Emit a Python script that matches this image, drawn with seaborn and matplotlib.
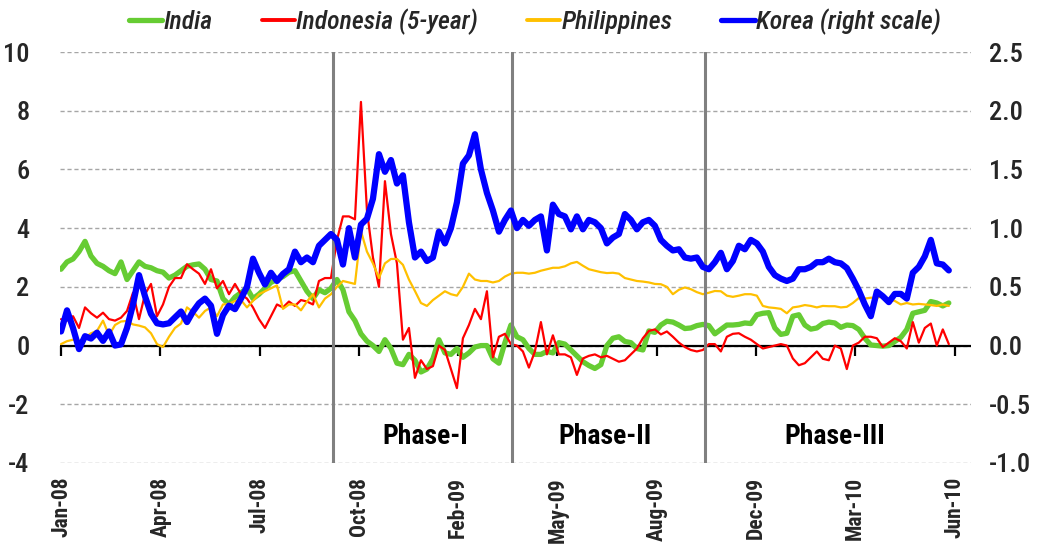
import numpy as np
import pandas as pd
import matplotlib
matplotlib.use("Agg")
import matplotlib.pyplot as plt
import seaborn as sns
from matplotlib.lines import Line2D
from matplotlib.ticker import FormatStrFormatter
from matplotlib import font_manager as fm

# ---------------- data ----------------
india = [2.6, 2.85, 2.95, 3.2, 3.55, 3.05, 2.8, 2.7, 2.55, 2.45,
         2.85, 2.25, 2.55, 2.85, 2.7, 2.65, 2.55, 2.5, 2.3, 2.4,
         2.55, 2.7, 2.75, 2.78, 2.6, 2.25, 2.2, 1.6, 1.4, 1.65,
         1.8, 1.95, 1.6, 1.75, 1.95, 2.15, 2.25, 2.35, 2.5, 2.55,
         2.2, 1.85, 1.6, 1.9, 1.8, 1.95, 2.25, 1.9, 1.15, 0.85,
         0.4, 0.15, 0.0, -0.2, 0.2, -0.1, -0.6, -0.65, -0.3, -0.5,
         -0.9, -0.8, -0.45, 0.2, -0.25, -0.3, -0.1, -0.4, -0.25, -0.05,
         0.0, 0.0, -0.45, -0.6, 0.1, 0.7, 0.3, 0.2, -0.1, -0.3,
         -0.3, -0.2, -0.25, 0.1, 0.05, -0.15, -0.35, -0.55, -0.68, -0.78,
         -0.65, 0.0, 0.25, 0.3, 0.14, 0.1, -0.1, -0.15, 0.5, 0.45,
         0.7, 0.83, 0.8, 0.7, 0.58, 0.6, 0.68, 0.72, 0.68, 0.4,
         0.55, 0.7, 0.7, 0.72, 0.77, 0.75, 1.05, 1.1, 1.12, 0.6,
         0.38, 0.42, 1.0, 1.05, 0.7, 0.56, 0.6, 0.75, 0.8, 0.77,
         0.62, 0.7, 0.68, 0.55, 0.25, 0.02, 0.0, -0.02, 0.0, 0.14,
         0.28, 0.55, 1.1, 1.15, 1.2, 1.5, 1.45, 1.35, 1.45]

indonesia = [0.9, 0.85, 1.0, 0.6, 1.3, 1.1, 0.95, 1.12, 0.9, 0.85,
             0.95, 1.18, 1.8, 0.9, 1.75, 2.1, 1.0, 1.4, 2.0, 2.3,
             2.3, 2.77, 2.6, 2.45, 2.1, 2.6, 1.95, 2.2, 1.75, 2.1,
             1.75, 1.6, 1.3, 0.9, 0.6, 1.0, 1.4, 1.3, 1.5, 1.35,
             1.55, 1.5, 1.4, 2.2, 2.3, 2.3, 3.6, 4.4, 4.4, 4.3,
             8.3, 4.6, 3.0, 2.0, 5.6, 3.8, 2.8, 0.2, 0.6, -1.1,
             -0.5, -0.8, -0.7, 0.0, -0.15, -0.8, -1.45, 0.25, 0.7, 1.25,
             0.9, 1.85, -0.4, 0.3, 0.4, 0.05, 0.0, -0.2, -0.75, -0.2,
             0.8, -0.3, 0.35, -0.3, -0.3, -0.4, -1.0, -0.44, -0.35, -0.3,
             -0.4, -0.35, -0.45, -0.55, -0.5, -0.3, -0.1, 0.25, 0.5, 0.55,
             0.38, 0.48, 0.3, 0.1, -0.05, -0.15, -0.2, -0.15, 0.05, 0.05,
             -0.2, 0.3, 0.4, 0.42, 0.3, 0.2, 0.05, -0.1, -0.05, 0.0,
             0.05, 0.0, -0.44, -0.67, -0.6, -0.4, -0.2, -0.45, -0.5, 0.0,
             -0.1, -0.8, 0.0, 0.1, 0.3, 0.3, 0.25, -0.05, 0.1, 0.25,
             0.15, -0.1, 0.8, 0.1, 0.6, 0.75, 0.0, 0.55, 0.05]

philippines = [0.05, 0.15, 0.2, 0.15, 0.27, 0.42, 0.5, 0.85, 0.35, 0.7,
               0.82, 0.84, 0.72, 0.68, 0.62, 0.42, 0.05, -0.05, 0.3, 0.6,
               0.75, 1.3, 1.15, 0.95, 1.18, 1.3, 1.0, 1.4, 1.42, 1.52,
               1.55, 1.3, 1.52, 1.75, 1.85, 1.95, 2.05, 1.25, 1.4, 1.4,
               1.2, 1.5, 1.75, 1.3, 1.6, 1.75, 2.0, 2.2, 2.15, 2.1,
               3.9, 3.2, 2.8, 2.3, 2.8, 2.95, 2.95, 2.75, 2.25, 1.86,
               1.45, 1.35, 1.55, 1.7, 1.85, 1.75, 1.7, 2.0, 2.45, 2.25,
               2.2, 2.2, 2.15, 2.2, 2.35, 2.45, 2.48, 2.48, 2.45, 2.48,
               2.55, 2.6, 2.65, 2.65, 2.7, 2.8, 2.85, 2.72, 2.6, 2.55,
               2.5, 2.47, 2.48, 2.45, 2.3, 2.25, 2.2, 2.18, 2.15, 2.1,
               2.09, 2.0, 1.75, 1.9, 1.98, 1.92, 1.82, 1.75, 1.8, 1.86,
               1.85, 1.7, 1.66, 1.7, 1.75, 1.75, 1.7, 1.35, 1.3, 1.28,
               1.25, 1.1, 1.3, 1.33, 1.38, 1.35, 1.3, 1.35, 1.34, 1.34,
               1.3, 1.32, 1.45, 1.62, 1.6, 1.63, 1.63, 1.68, 1.58, 1.52,
               1.4, 1.45, 1.4, 1.42, 1.4, 1.38, 1.35, 1.4, 1.35]

korea = [0.12, 0.3, 0.15, -0.03, 0.08, 0.06, 0.11, 0.04, 0.12, 0.0,
         0.01, 0.15, 0.35, 0.6, 0.42, 0.27, 0.19, 0.18, 0.19, 0.24,
         0.29, 0.2, 0.29, 0.36, 0.4, 0.34, 0.1, 0.26, 0.34, 0.31,
         0.4, 0.5, 0.74, 0.62, 0.52, 0.62, 0.55, 0.61, 0.65, 0.8,
         0.71, 0.75, 0.71, 0.85, 0.9, 0.95, 0.9, 0.69, 1.0, 0.75,
         1.03, 1.08, 1.25, 1.63, 1.48, 1.58, 1.38, 1.45, 1.05, 0.75,
         0.8, 0.72, 0.75, 0.97, 0.87, 1.0, 1.22, 1.55, 1.62, 1.8,
         1.5, 1.3, 1.15, 0.97, 1.07, 1.15, 1.0, 1.07, 1.02, 1.07,
         1.1, 0.81, 1.2, 1.12, 1.1, 0.99, 1.1, 0.99, 1.07, 1.05,
         1.0, 0.87, 0.92, 0.95, 1.12, 1.07, 0.99, 1.05, 1.07, 1.02,
         0.9, 0.85, 0.81, 0.82, 0.75, 0.74, 0.75, 0.67, 0.65, 0.71,
         0.79, 0.65, 0.72, 0.85, 0.82, 0.9, 0.87, 0.8, 0.67, 0.6,
         0.57, 0.55, 0.57, 0.65, 0.65, 0.67, 0.71, 0.71, 0.74, 0.71,
         0.7, 0.66, 0.57, 0.47, 0.35, 0.25, 0.46, 0.42, 0.37, 0.44,
         0.44, 0.4, 0.62, 0.67, 0.76, 0.9, 0.7, 0.69, 0.64]

tick_labels = ["Jan-08", "Apr-08", "Jul-08", "Oct-08", "Feb-09",
               "May-09", "Aug-09", "Dec-09", "Mar-10", "Jun-10"]
tick_step = 16.55                      # observations between category labels
phase_bounds = [45.3, 75.2, 107.3]      # observation index of phase breaks
phase_names = ["Phase-I", "Phase-II", "Phase-III"]
phase_label_x = [60.7, 90.7, 129.0]
series_names = ["India", "Indonesia (5-year)", "Philippines", "Korea (right scale)"]

# ---------------- style ----------------
sns.set_style("white")
names = {f.name for f in fm.fontManager.ttflist}
cond = next((n for n in ["Liberation Sans Narrow", "Roboto Condensed",
                         "Open Sans Condensed", "DejaVu Sans"] if n in names), "DejaVu Sans")
plt.rcParams["font.family"] = [cond, "DejaVu Sans"]
plt.rcParams["axes.unicode_minus"] = False

C_IND = "#66CC33"
C_IDN = "#FF0000"
C_PHL = "#FFC000"
C_KOR = "#0000FF"

df = pd.DataFrame({"obs": np.arange(len(india)), "India": india,
                   "Indonesia": indonesia, "Philippines": philippines,
                   "Korea": korea})

fig = plt.figure(figsize=(10.43, 5.46), dpi=100)
ax = fig.add_axes([60 / 1043, 1 - 463 / 546, 911 / 1043, 411 / 546])
ax2 = ax.twinx()

sns.lineplot(data=df, x="obs", y="India", ax=ax, color=C_IND, lw=3.8, zorder=3)
sns.lineplot(data=df, x="obs", y="Indonesia", ax=ax, color=C_IDN, lw=1.6, zorder=4)
sns.lineplot(data=df, x="obs", y="Philippines", ax=ax, color=C_PHL, lw=1.6, zorder=5)
sns.lineplot(data=df, x="obs", y="Korea", ax=ax2, color=C_KOR, lw=4.5, zorder=3)

ax.set_xlim(-0.17, 151.7)
ax.set_ylim(-4, 10)
ax2.set_ylim(-1, 2.5)
ax.set_yticks(range(-4, 11, 2))
ax2.set_yticks(np.arange(-1.0, 2.51, 0.5))
ax2.yaxis.set_major_formatter(FormatStrFormatter("%.1f"))

ax.yaxis.grid(True, linestyle=(0, (3, 2)), color="#A6A6A6", lw=1.0)
ax.xaxis.grid(False)
ax2.grid(False)
for a in (ax, ax2):
    for s in a.spines.values():
        s.set_visible(False)
    a.set_xlabel("")
    a.set_ylabel("")

ax.tick_params(axis="y", length=0, pad=22, labelsize=19)
ax2.tick_params(axis="y", length=0, pad=13, labelsize=19)
for lab in ax.get_yticklabels() + ax2.get_yticklabels():
    lab.set_fontweight("medium")

tick_pos = np.arange(len(tick_labels)) * tick_step
ax.set_xticks(tick_pos)
ax.set_xticklabels(tick_labels, rotation=90, fontweight="bold", fontsize=15.5)
ax.tick_params(axis="x", length=0, pad=10)

# zero line with tick marks
ax.axhline(0, color="black", lw=1.6, zorder=2.5)
sec = ax.secondary_xaxis(4 / 14)
sec.set_xticks(tick_pos)
sec.tick_params(axis="x", direction="out", length=7, width=1.6, color="black",
                labelbottom=False, labeltop=False)
for s in sec.spines.values():
    s.set_visible(False)

# phase separators and labels
for b in phase_bounds:
    ax.axvline(b, color="#808080", lw=2.2, zorder=6)
for nm, xp in zip(phase_names, phase_label_x):
    ax.text(xp, -3.1, nm, ha="center", va="center", fontsize=20,
            fontweight="bold", color="black")

handles = [Line2D([], [], color=C_IND, lw=3.8),
           Line2D([], [], color=C_IDN, lw=2.8),
           Line2D([], [], color=C_PHL, lw=2.8),
           Line2D([], [], color=C_KOR, lw=3.8)]
fig.legend(handles, series_names, loc="center", bbox_to_anchor=(535 / 1043, 1 - 22 / 546),
           ncol=4, frameon=False, prop=dict(style="italic", size=18.5, weight="medium"),
           handlelength=1.3, handletextpad=0.05, columnspacing=1.9)

fig.savefig("out.png", dpi=100)
